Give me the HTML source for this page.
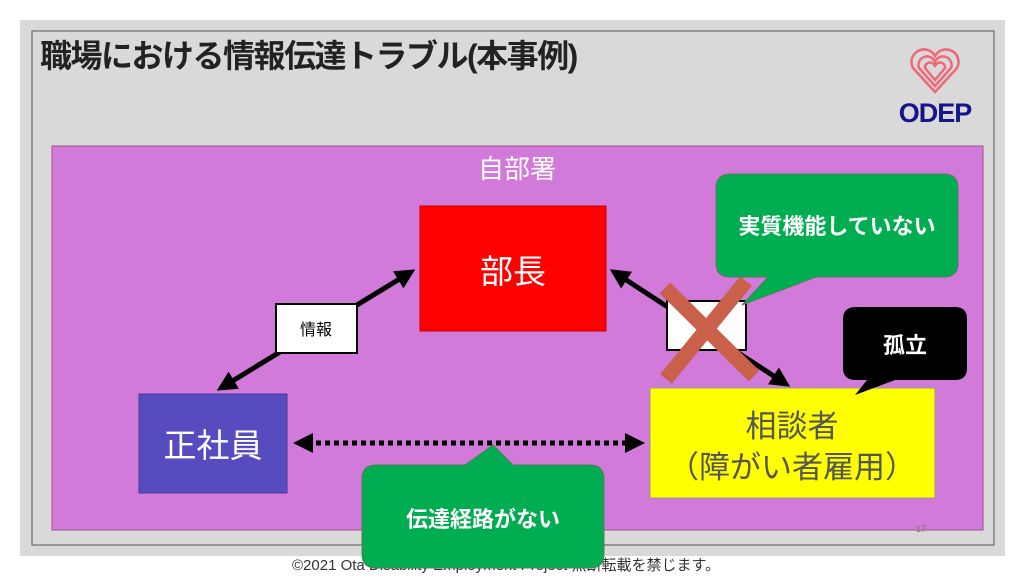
<!DOCTYPE html>
<html><head><meta charset="utf-8"><style>
body{margin:0;width:1024px;height:576px;background:#fff;overflow:hidden;font-family:"Liberation Sans","Noto Sans CJK JP",sans-serif}
</style></head><body>
<svg width="1024" height="576" xmlns="http://www.w3.org/2000/svg" font-family="Liberation Sans, Noto Sans CJK JP, sans-serif">
<defs>
<marker id="ah" markerWidth="4" markerHeight="4" refX="3" refY="2" orient="auto-start-reverse" markerUnits="strokeWidth"><path d="M0,0 L4,2 L0,4 z" fill="#000"/></marker>
</defs>
<rect x="20" y="20" width="985" height="536" fill="#d9d9d9"/>
<rect x="32" y="31" width="962" height="514" fill="none" stroke="#555" stroke-width="1"/>
<text x="40" y="67" font-size="32" font-weight="bold" fill="#222" letter-spacing="-1.5">職場における情報伝達トラブル(本事例)</text>
<g transform="translate(935,66)" fill="none" stroke="#f06878" stroke-width="2.5">
<path d="M0,26 L-22,2 A11,11 0 0 1 0,-10 A11,11 0 0 1 22,2 Z"/>
<path d="M0,20 L-16,2 A7,7 0 0 1 0,-4 A7,7 0 0 1 16,2 Z"/>
<path d="M0,14 L-10,2 A4,4 0 0 1 0,1 A4,4 0 0 1 10,2 Z"/>
</g>
<text x="935" y="122" font-size="27" font-weight="bold" fill="#14148c" text-anchor="middle" letter-spacing="-1">ODEP</text>
<rect x="52" y="146" width="931" height="384" fill="#d17ad9" stroke="#a05090" stroke-width="1"/>
<text x="517" y="178" font-size="26" fill="#fff" text-anchor="middle">自部署</text>
<rect x="420" y="206" width="186" height="125" fill="#ff0000" stroke="#c00" stroke-width="1"/>
<text x="513" y="283" font-size="33" fill="#fff" text-anchor="middle">部長</text>
<rect x="139" y="394" width="148" height="99" fill="#574bc0" stroke="#4a3a9a"/>
<text x="213" y="457" font-size="33" fill="#fff" text-anchor="middle">正社員</text>
<rect x="650" y="388" width="285" height="110" fill="#ffff00" stroke="#999"/>
<text x="792" y="437" font-size="31" fill="#555" text-anchor="middle">相談者</text>
<text x="792" y="478" font-size="31" fill="#555" text-anchor="middle">（障がい者雇用）</text>
<line x1="411" y1="272" x2="221" y2="388" stroke="#000" stroke-width="5" marker-start="url(#ah)" marker-end="url(#ah)"/>
<rect x="276" y="304" width="81" height="49" fill="#fff" stroke="#000" stroke-width="2"/>
<text x="316" y="335" font-size="16" fill="#000" text-anchor="middle">情報</text>
<line x1="614" y1="272" x2="786" y2="384" stroke="#000" stroke-width="5" marker-start="url(#ah)" marker-end="url(#ah)"/>
<rect x="667" y="301" width="79" height="49" fill="#fff" stroke="#000" stroke-width="2"/>
<line x1="665" y1="288" x2="754" y2="376" stroke="#c8604a" stroke-width="15"/>
<line x1="746" y1="281" x2="666" y2="379" stroke="#c8604a" stroke-width="15"/>
<line x1="298" y1="443" x2="640" y2="443" stroke="#000" stroke-width="5" stroke-dasharray="5,4" marker-start="url(#ah)" marker-end="url(#ah)"/>
<path d="M731,174 H944 Q958,174 958,188 V263 Q958,277 944,277 H816 L742,305 L768,277 H730 Q716,277 716,263 V188 Q716,174 731,174 Z" fill="#00ad50" stroke="#5a7a5a"/>
<text x="837" y="234" font-size="22" font-weight="bold" fill="#fff" text-anchor="middle">実質機能していない</text>
<path d="M856,307 H955 Q967,307 967,319 V368 Q967,380 955,380 H895 L855,395 L867,380 H856 Q843,380 843,368 V319 Q843,307 856,307 Z" fill="#000"/>
<text x="905" y="353" font-size="22" font-weight="bold" fill="#fff" text-anchor="middle">孤立</text>
<text x="506" y="570" font-size="15" fill="#333" text-anchor="middle">©2021  Ota Disability Employment Project  無断転載を禁じます。</text>
<path d="M376,465 H465 L493,445 L513,465 H590 Q604,465 604,479 V554 Q604,568 590,568 H376 Q362,568 362,554 V479 Q362,465 376,465 Z" fill="#00ad50" stroke="#5a7a5a"/>
<text x="483" y="527" font-size="22" font-weight="bold" fill="#fff" text-anchor="middle">伝達経路がない</text>
<text x="921" y="532" font-size="9" fill="#777" text-anchor="middle">17</text>
</svg>
</body></html>
